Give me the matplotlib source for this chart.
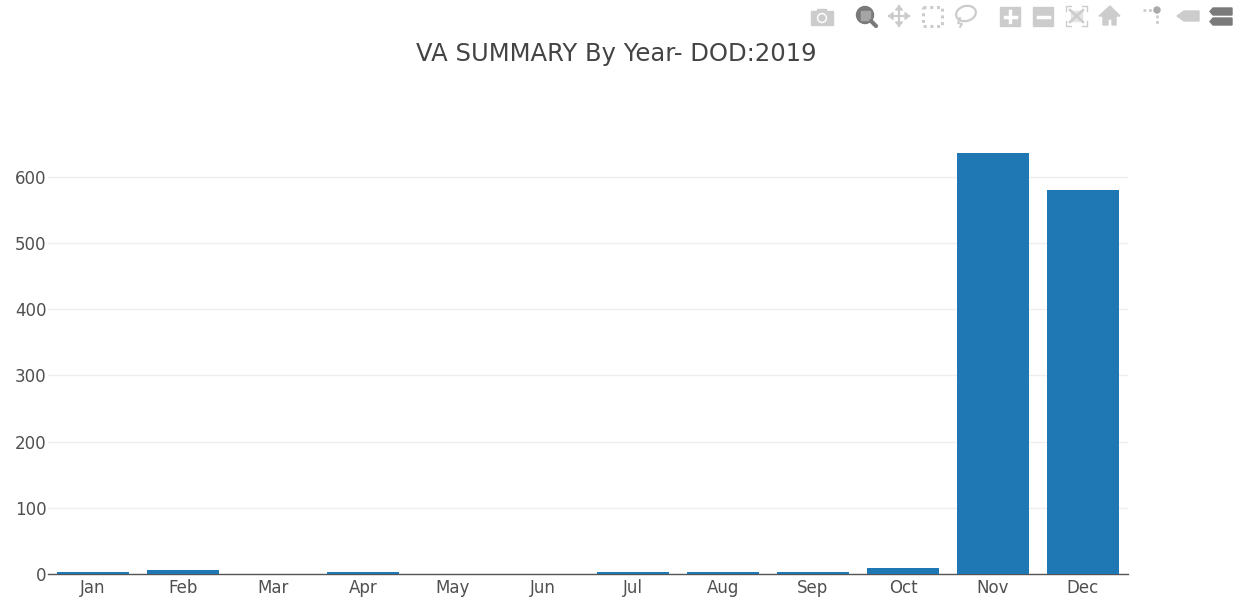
import matplotlib
matplotlib.use('Agg')
import matplotlib.pyplot as plt
from matplotlib.patches import Rectangle, Circle, Ellipse, Polygon

plt.rcParams['font.family'] = ['DejaVu Sans']

months = ['Jan', 'Feb', 'Mar', 'Apr', 'May', 'Jun', 'Jul', 'Aug', 'Sep', 'Oct', 'Nov', 'Dec']
counts = [3, 6, 0, 3, 0, 0, 3, 3, 3, 9, 636, 580]
y_ticks = [0, 100, 200, 300, 400, 500, 600]

W, H = 1241, 601
BAR = '#1f77b4'
TEXT = '#505050'

fig = plt.figure(figsize=(W / 100, H / 100), dpi=100)
ax = fig.add_axes([48 / W, 1 - 574 / H, (1128 - 48) / W, (574 - 133) / H])

ax.bar(range(len(months)), counts, width=0.8, color=BAR, linewidth=0, zorder=3)
ax.set_xlim(-0.5, 11.5)
ax.set_ylim(0, 666)
ax.set_xticks(range(len(months)))
ax.set_xticklabels(months)
ax.set_yticks(y_ticks)
ax.grid(axis='y', color='#eeeeee', linewidth=1, zorder=0)
ax.tick_params(axis='x', length=0, pad=3.5, labelsize=12, labelcolor=TEXT)
ax.tick_params(axis='y', length=0, pad=1, labelsize=12, labelcolor=TEXT)
for s in ['top', 'right', 'left']:
    ax.spines[s].set_visible(False)
ax.spines['bottom'].set_color('#555555')
ax.spines['bottom'].set_linewidth(1)
ax.spines['bottom'].set_zorder(2)

fig.text(616 / W, 1 - 54 / H, 'VA SUMMARY By Year- DOD:2019', ha='center', va='center',
         fontsize=17.5, color='#444444')

# toolbar icons top right, in pixel coords
tb = fig.add_axes([0, 0, 1, 1], facecolor='none')
tb.set_xlim(0, W)
tb.set_ylim(H, 0)
tb.axis('off')
light = '#cccccc'
dark = '#7a7a7a'

# camera
tb.add_patch(Rectangle((811, 11), 22, 14, color=light))
tb.add_patch(Rectangle((817, 8.5), 9, 3, color=light))
tb.add_patch(Circle((822, 18), 4.5, color='white'))
tb.add_patch(Circle((822, 18), 3, color=light))
# zoom
tb.add_patch(Circle((865, 15), 8.5, color=dark))
tb.add_patch(Rectangle((860.5, 10.5), 9, 9, color='#a5a5a5'))
tb.plot([871, 876], [21, 26], color=dark, lw=3, solid_capstyle='round')
# pan
tb.plot([889, 909], [16, 16], color=light, lw=1.6)
tb.plot([899, 899], [6, 26], color=light, lw=1.6)
tb.add_patch(Polygon([(889, 16), (893, 12.5), (893, 19.5)], color=light))
tb.add_patch(Polygon([(909, 16), (905, 12.5), (905, 19.5)], color=light))
tb.add_patch(Polygon([(899, 6), (895.5, 10), (902.5, 10)], color=light))
tb.add_patch(Polygon([(899, 26), (895.5, 22), (902.5, 22)], color=light))
# box select
tb.add_patch(Rectangle((923, 6.5), 19, 19, fill=False, ec=light, lw=2.2, ls=(0, (1, 1.2))))
# lasso
tb.add_patch(Ellipse((966, 13.5), 20, 15, angle=-15, fill=False, ec=light, lw=1.6))
tb.plot([960, 958, 962, 960], [18, 23, 24, 27], color=light, lw=1.4)
# zoom in / out
tb.add_patch(Rectangle((1000, 7), 20, 19, color=light))
tb.plot([1004.5, 1015.5], [16.5, 16.5], color='white', lw=2.5)
tb.plot([1010, 1010], [11, 22], color='white', lw=2.5)
tb.add_patch(Rectangle((1033, 7), 20, 19, color=light))
tb.plot([1037.5, 1048.5], [16.5, 16.5], color='white', lw=2.5)
# autoscale
for cx, cy, dx, dy in [(1066, 6, 1, 1), (1087, 6, -1, 1), (1066, 26, 1, -1), (1087, 26, -1, -1)]:
    tb.plot([cx + 5 * dx, cx, cx], [cy, cy, cy + 5 * dy], color=light, lw=1)
tb.add_patch(Rectangle((1071, 11), 11, 10, color='#e4e4e4'))
tb.plot([1070, 1083], [10, 22], color=light, lw=1.8)
tb.plot([1083, 1070], [10, 22], color=light, lw=1.8)
# home
tb.add_patch(Polygon([(1099, 16), (1110, 6), (1120, 16), (1116, 16), (1116, 25), (1112, 25), (1112, 19),
                      (1108, 19), (1108, 25), (1103, 25), (1103, 16)], color=light))
# spike lines
tb.plot([1143, 1152], [10, 10], color=light, lw=2, ls=(0, (1, 1)))
tb.plot([1157, 1157], [15, 24], color=light, lw=2, ls=(0, (1, 1)))
tb.add_patch(Circle((1157, 10), 3, color='#aaaaaa'))
# hover closest
tb.add_patch(Polygon([(1177, 16), (1184, 11), (1199, 11), (1199, 21), (1184, 21)], color=light))
# hover compare
tb.add_patch(Polygon([(1210, 11.5), (1213, 8), (1232, 8), (1232, 15), (1213, 15)], color=dark))
tb.add_patch(Polygon([(1210, 21.5), (1213, 18), (1232, 18), (1232, 25), (1213, 25)], color=dark))

fig.savefig('out.png', dpi=100)
